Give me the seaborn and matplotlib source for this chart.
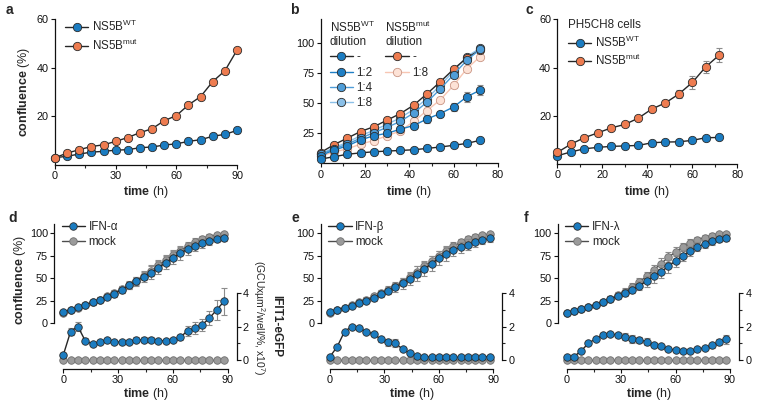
import matplotlib.pyplot as plt
from matplotlib.lines import Line2D
from matplotlib.ticker import MultipleLocator, FixedLocator
import seaborn as sns

sns.set_style('ticks')
plt.rcParams['font.family'] = ['Liberation Sans', 'DejaVu Sans']
plt.rcParams['mathtext.fontset'] = 'custom'
plt.rcParams['mathtext.rm'] = 'Liberation Sans'
plt.rcParams['mathtext.bf'] = 'Liberation Sans:bold'
plt.rcParams['mathtext.it'] = 'Liberation Sans:italic'

BLUE = '#1b7cc1'
ORANGE = '#ee7c50'
GRAY = '#9b9b9b'
DARK = '#262626'
ERR = '#8c8c8c'

# ---- data ----
t_a = [0, 6, 12, 18, 24, 30, 36, 42, 48, 54, 60, 66, 72, 78, 84, 90]
a_wt = [3.0, 3.6, 4.5, 5.3, 5.6, 6.1, 6.3, 7.1, 7.4, 8.2, 8.7, 9.7, 10.4, 11.8, 12.6, 14.2]
a_wt_err = [0.2, 0.2, 0.2, 0.2, 0.2, 0.2, 0.3, 0.3, 0.3, 0.3, 0.4, 0.4, 0.5, 0.6, 0.7, 1.2]
a_mut = [3.0, 4.9, 6.3, 7.6, 8.3, 9.7, 11.3, 13.3, 14.9, 18.2, 20.3, 24.7, 28.1, 34.3, 38.7, 47.2]

t_bc = [0, 6, 12, 18, 24, 30, 36, 42, 48, 54, 60, 66, 72]
b_wt = [3.5, 5.5, 7.5, 8.7, 9.6, 10.2, 10.7, 11.3, 12.4, 13.6, 15.0, 16.6, 19.2]
b_wt_12 = [6.5, 11.0, 14.5, 19.5, 23.0, 25.0, 28.5, 31.5, 37.0, 41.5, 47.0, 55.5, 61.0]
b_wt_12_err = [0.5, 0.8, 1.0, 1.2, 1.5, 1.5, 2.0, 2.0, 3.5, 2.5, 3.0, 4.0, 4.0]
b_wt_14 = [7.5, 12.0, 16.0, 21.0, 25.5, 30.0, 35.0, 42.0, 51.0, 62.0, 74.0, 86.0, 95.0]
b_wt_18 = [8.0, 13.0, 17.5, 23.0, 27.5, 32.5, 38.0, 45.0, 54.0, 65.0, 77.0, 89.0, 96.0]
b_mut = [9.0, 15.5, 21.0, 26.5, 30.5, 36.0, 41.5, 48.5, 58.0, 68.0, 78.5, 88.0, 94.5]
b_mut_18 = [6.0, 9.5, 12.0, 16.0, 19.0, 23.0, 27.0, 35.0, 44.0, 53.0, 65.0, 79.0, 89.0]
b_mut_18_err = [0.5, 0.8, 1.0, 1.0, 1.5, 1.5, 1.5, 2.0, 2.0, 2.0, 2.0, 2.0, 2.0]

c_wt = [3.4, 5.0, 6.3, 6.9, 7.3, 7.5, 7.7, 8.8, 9.1, 9.2, 9.8, 10.9, 11.0]
c_mut = [4.8, 8.2, 10.9, 12.9, 15.0, 16.4, 19.0, 22.8, 25.3, 29.0, 33.8, 40.3, 45.2]
c_mut_err = [0.3, 0.5, 0.5, 0.5, 0.5, 0.6, 0.6, 0.8, 1.2, 1.5, 2.5, 2.6, 3.0]

t_ifn = [0, 4, 8, 12, 16, 20, 24, 28, 32, 36, 40, 44, 48, 52, 56, 60, 64, 68, 72, 76, 80, 84, 88]
d_conf = [12.2, 14.8, 17.5, 20.2, 23.0, 26.0, 29.3, 32.6, 37.2, 41.8, 46.3, 51.2, 56.0, 61.5, 67.0, 72.5, 77.5, 82.0, 85.5, 88.5, 91.0, 93.0, 94.5]
d_conf_err = [1, 1, 1.5, 2, 2.5, 3, 3, 3.5, 4, 4.5, 5, 6, 7, 7, 7, 7, 7, 6.5, 6, 5, 4, 3.5, 3]
d_mock = [11.0, 14.0, 17.0, 20.0, 23.0, 26.0, 29.5, 33.0, 37.5, 42.0, 47.0, 52.5, 58.0, 64.0, 70.0, 75.5, 80.5, 85.5, 90.0, 93.5, 96.0, 98.0, 99.0]
d_mock_err = [1, 1, 1.5, 2, 2.5, 3, 3, 3.5, 4, 4, 4.5, 5, 6, 6, 6, 5.5, 5, 4.5, 4, 3.5, 3, 2.5, 2]
d_gfp = [0.3, 1.7, 2.0, 1.15, 0.95, 1.1, 1.2, 1.1, 1.05, 1.1, 1.2, 1.2, 1.2, 1.15, 1.15, 1.2, 1.35, 1.75, 1.9, 2.1, 2.5, 3.0, 3.5]
d_gfp_err = [0.1, 0.2, 0.25, 0.15, 0.1, 0.1, 0.1, 0.1, 0.1, 0.1, 0.15, 0.15, 0.15, 0.1, 0.1, 0.1, 0.15, 0.3, 0.35, 0.35, 0.4, 0.6, 0.8]

e_conf = [12.4, 15.0, 17.0, 19.4, 22.0, 25.0, 28.0, 32.0, 36.0, 40.0, 44.0, 49.0, 55.0, 60.0, 66.0, 72.0, 76.5, 81.0, 84.0, 87.0, 90.0, 92.0, 94.0]
e_conf_err = [1, 1, 1.5, 2, 2.5, 3, 3, 3.5, 4, 5, 6, 7, 8, 8, 8, 8, 8, 7, 6, 6, 5, 4, 3.5]
e_mock = [11.0, 14.0, 17.0, 20.0, 23.0, 26.0, 29.5, 33.0, 37.0, 41.5, 46.0, 51.5, 57.0, 63.0, 69.0, 75.0, 80.5, 85.5, 89.5, 93.0, 95.5, 97.5, 99.0]
e_mock_err = [1, 1, 1.5, 2, 2.5, 3, 3, 3.5, 4, 4, 4.5, 5, 6, 6, 6, 5.5, 5, 4.5, 4, 3.5, 3, 2.5, 2]
e_gfp = [0.2, 0.8, 1.7, 2.0, 1.9, 1.7, 1.55, 1.25, 1.05, 1.0, 0.65, 0.4, 0.25, 0.2, 0.18, 0.18, 0.17, 0.16, 0.16, 0.17, 0.18, 0.2, 0.2]
e_gfp_err = [0.05, 0.1, 0.1, 0.1, 0.1, 0.1, 0.1, 0.15, 0.2, 0.25, 0.1, 0.1, 0.05, 0.05, 0.05, 0.05, 0.05, 0.05, 0.05, 0.05, 0.05, 0.05, 0.05]

f_conf = [11.5, 13.5, 15.5, 18.0, 20.5, 23.5, 26.5, 29.5, 33.0, 37.0, 41.5, 46.5, 52.0, 57.0, 63.0, 69.0, 75.0, 80.0, 84.5, 88.0, 91.0, 93.0, 94.5]
f_conf_err = [1, 1, 1, 1.5, 2, 2.5, 3, 3, 3.5, 4, 5, 6, 7, 7, 7, 7, 6, 6, 5, 4.5, 4, 3.5, 3]
f_mock = [11.5, 13.5, 15.5, 18.0, 20.5, 23.5, 27.0, 31.0, 35.0, 40.0, 45.5, 52.0, 59.0, 66.0, 73.0, 79.0, 84.5, 89.0, 92.5, 95.0, 97.0, 98.5, 99.0]
f_mock_err = [1, 1, 1, 1.5, 2, 2.5, 3, 3, 3.5, 4, 4.5, 5, 5.5, 6, 5.5, 5, 4.5, 4, 3.5, 3, 2.5, 2, 2]
f_gfp = [0.2, 0.2, 0.55, 1.0, 1.27, 1.5, 1.55, 1.5, 1.4, 1.27, 1.2, 1.1, 0.9, 0.82, 0.68, 0.58, 0.53, 0.53, 0.64, 0.74, 0.88, 1.07, 1.23]
f_gfp_err = [0.05, 0.05, 0.05, 0.1, 0.1, 0.1, 0.1, 0.1, 0.2, 0.25, 0.2, 0.2, 0.1, 0.1, 0.1, 0.05, 0.05, 0.05, 0.1, 0.1, 0.15, 0.2, 0.25]

mock_gfp = [0.0] * len(t_ifn)

W, H = 758, 405
fig = plt.figure(figsize=(W / 100, H / 100), dpi=100)


def px_axes(x0, x1, ytop, ybot):
    return fig.add_axes([x0 / W, 1 - ybot / H, (x1 - x0) / W, (ybot - ytop) / H])


def series(ax, t, y, face, line=DARK, edge='#2b2b2b', err=None, ms=6, z=3, lw=1.0):
    if err is not None:
        ax.errorbar(t, y, yerr=err, fmt='none', ecolor=ERR, elinewidth=0.8,
                    capsize=2.2, capthick=0.8, zorder=z - 0.5, clip_on=False)
    sns.lineplot(x=t, y=y, ax=ax, color=line, lw=lw, marker='o', markersize=ms,
                 markerfacecolor=face, markeredgecolor=edge, markeredgewidth=0.6,
                 estimator=None, errorbar=None, sort=False, zorder=z, clip_on=False)


def handle(face, line=DARK, edge='#2b2b2b', ms=6):
    return Line2D([], [], color=line, lw=1.0, marker='o', markersize=ms,
                  markerfacecolor=face, markeredgecolor=edge, markeredgewidth=0.6)


def style(ax):
    sns.despine(ax=ax)
    ax.tick_params(labelsize=7.8, length=3, width=0.8, pad=1.5, colors='#111111')
    ax.tick_params(which='minor', length=2, width=0.8)
    for s in ax.spines.values():
        s.set_linewidth(0.9)
        s.set_color('#111111')


def xlab(x, y):
    fig.text(x / W, 1 - y / H, r'$\mathbf{time}$ (h)', ha='center', va='center', fontsize=9)


def ylab(x, y):
    fig.text(x / W, 1 - y / H, r'$\mathbf{confluence}$ (%)', ha='center', va='center',
             rotation=90, fontsize=9)


def letter(x, y, s):
    fig.text(x / W, 1 - y / H, s, ha='left', va='center', fontsize=10, fontweight='bold')


leg_kw = dict(frameon=False, fontsize=8.4, handlelength=2.0, handletextpad=0.3,
              labelspacing=0.28, borderaxespad=0, borderpad=0, loc='upper left')

WT = r'NS5B$^{\mathregular{WT}}$'
MUT = r'NS5B$^{\mathregular{mut}}$'

# ---- panel a ----
ax = px_axes(55, 237, 19, 165)
series(ax, t_a, a_wt, BLUE, err=a_wt_err, z=3)
series(ax, t_a, a_mut, ORANGE, z=4)
ax.set_xlim(0, 90)
ax.set_ylim(0, 60)
ax.set_xticks([0, 30, 60, 90])
ax.xaxis.set_minor_locator(MultipleLocator(15))
ax.set_yticks([20, 40, 60])
ax.set_xlabel('')
ax.set_ylabel('')
style(ax)
ax.legend([handle(BLUE), handle(ORANGE)], [WT, MUT], bbox_to_anchor=(0.055, 1.0), **leg_kw)
ylab(24, 92)
xlab(146, 192)
letter(6, 10, 'a')

# ---- panel b ----
ax = px_axes(320.7, 498, 19.3, 163.3)
c12, c14, c18 = '#1f7fc5', '#4f9dd8', '#8bc0e8'
p18e, p18f, p18l = '#c99584', '#fde2d6', '#f7c6b3'
series(ax, t_bc, b_mut_18, p18f, line=p18l, edge=p18e, err=b_mut_18_err, z=2)
series(ax, t_bc, b_wt_18, c18, line=c18, z=3)
series(ax, t_bc, b_mut, ORANGE, z=4)
series(ax, t_bc, b_wt_14, c14, line=c14, z=5)
series(ax, t_bc, b_wt_12, c12, line=c12, err=b_wt_12_err, z=6)
series(ax, t_bc, b_wt, BLUE, z=7)
ax.set_xlim(0, 80)
ax.set_ylim(0, 120)
ax.set_xticks([0, 20, 40, 60, 80])
ax.xaxis.set_minor_locator(MultipleLocator(10))
ax.set_yticks([25, 50, 75, 100])
ax.set_xlabel('')
ax.set_ylabel('')
style(ax)
leg1 = ax.legend([handle(BLUE), handle(c12, line=c12), handle(c14, line=c14), handle(c18, line=c18)],
                 ['-', '1:2', '1:4', '1:8'], title=WT + '\ndilution', alignment='left',
                 title_fontsize=8.4, bbox_to_anchor=(0.05, 1.0), **leg_kw)
ax.add_artist(leg1)
ax.legend([handle(ORANGE), handle(p18f, line=p18l, edge=p18e)], ['-', '1:8'],
          title=MUT + '\ndilution', alignment='left', title_fontsize=8.4,
          bbox_to_anchor=(0.365, 1.0), **leg_kw)
xlab(409, 192)
letter(290, 10, 'b')

# ---- panel c ----
ax = px_axes(557.3, 737.3, 19.3, 164)
series(ax, t_bc, c_wt, BLUE, z=3)
series(ax, t_bc, c_mut, ORANGE, err=c_mut_err, z=4)
ax.set_xlim(0, 80)
ax.set_ylim(0, 60)
ax.set_xticks([0, 20, 40, 60, 80])
ax.xaxis.set_minor_locator(MultipleLocator(10))
ax.set_yticks([20, 40, 60])
ax.set_xlabel('')
ax.set_ylabel('')
style(ax)
ax.legend([handle(BLUE), handle(ORANGE)], [WT, MUT], title='PH5CH8 cells', alignment='left',
          title_fontsize=8.4, bbox_to_anchor=(0.06, 1.0), **leg_kw)
xlab(647, 192)
letter(525, 10, 'c')

# ---- panels d, e, f ----
bottom = [
    (63.3, 227.7, 'IFN-α', d_conf, d_conf_err, d_mock, d_mock_err, d_gfp, d_gfp_err, 'd', 8),
    (330.0, 493.3, 'IFN-β', e_conf, e_conf_err, e_mock, e_mock_err, e_gfp, e_gfp_err, 'e', 292),
    (566.7, 730.0, 'IFN-λ', f_conf, f_conf_err, f_mock, f_mock_err, f_gfp, f_gfp_err, 'f', 524),
]
for x0, x1, name, conf, conf_err, mock, mock_err, gfp, gfp_err, lab, lx in bottom:
    ax = px_axes(x0, x1, 224, 369)
    series(ax, t_ifn, mock, GRAY, line='#4d4d4d', edge='#6e6e6e', err=mock_err, ms=5.4, z=3)
    series(ax, t_ifn, conf, BLUE, err=conf_err, ms=5.4, z=4)
    ax.set_xlim(0, 90)
    ax.set_ylim(-51.1, 110)
    ax.set_xticks([0, 30, 60, 90])
    ax.xaxis.set_minor_locator(MultipleLocator(15))
    ax.set_yticks([0, 25, 50, 75, 100])
    ax.set_xlabel('')
    ax.set_ylabel('')
    style(ax)
    ax.spines['left'].set_bounds(0, 110)
    ax.spines['left'].set_position(('outward', 6.5))

    ax2 = ax.twinx()
    series(ax2, t_ifn, mock_gfp, GRAY, line='#4d4d4d', edge='#6e6e6e', ms=5.4, z=3)
    series(ax2, t_ifn, gfp, BLUE, err=gfp_err, ms=5.4, z=4)
    ax2.set_ylim(-0.537, 8.12)
    ax2.set_yticks([0, 2, 4])
    ax2.yaxis.set_minor_locator(FixedLocator([1, 3]))
    ax2.set_ylabel('')
    for s in ['top', 'left', 'bottom']:
        ax2.spines[s].set_visible(False)
    ax2.spines['right'].set_bounds(0, 4)
    ax2.spines['right'].set_position(('outward', 6.5))
    ax2.spines['right'].set_linewidth(0.9)
    ax2.spines['right'].set_color('#111111')
    ax2.tick_params(labelsize=7.8, length=3, width=0.8, pad=1.5, colors='#111111')
    ax2.tick_params(which='minor', length=2, width=0.8)
    ax2.set_xlim(0, 90)

    ax2.legend([handle(BLUE, ms=5.4), handle(GRAY, line='#4d4d4d', edge='#6e6e6e', ms=5.4)],
               [name, 'mock'], bbox_to_anchor=(-0.01, 1.02), **leg_kw)
    xlab((x0 + x1) / 2, 394)
    letter(lx, 218, lab)

ylab(20, 280)
fig.text(276 / W, 1 - 326 / H, 'IFIT1-eGFP', rotation=270, ha='center', va='center',
         fontsize=8.5, fontweight='bold')
fig.text(259 / W, 1 - 318 / H, r'(GCUxµm$^2$/well/%, x10$^7$)', rotation=270,
         ha='center', va='center', fontsize=7.5)

fig.savefig('out.png', dpi=100)
